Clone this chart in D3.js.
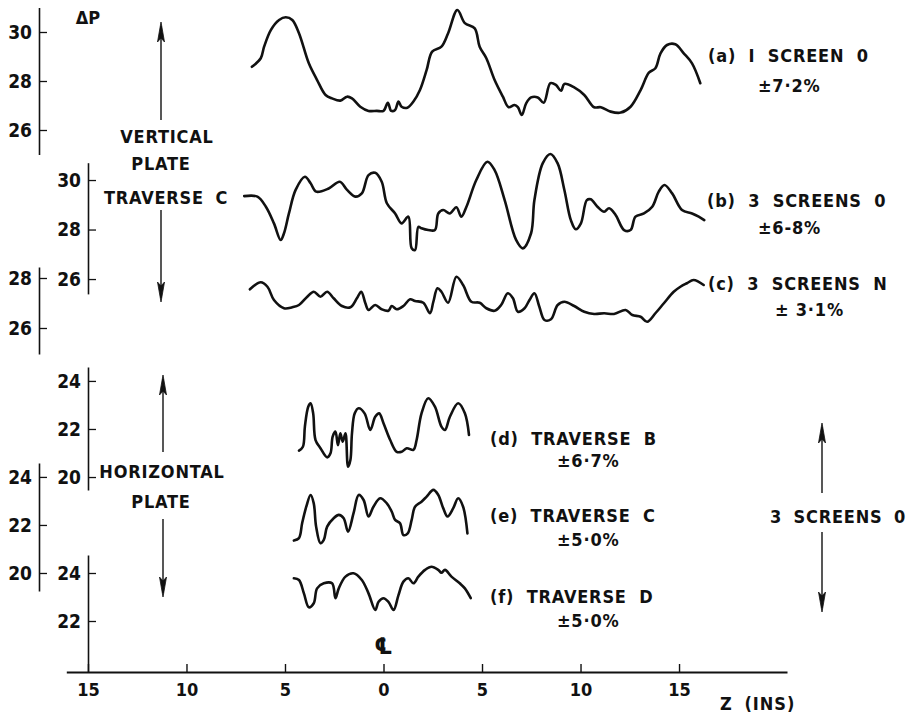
<!DOCTYPE html>
<html>
<head>
<meta charset="utf-8">
<script src="https://cdn.jsdelivr.net/npm/d3@7"></script>
<style>
  body { margin: 0; background: #fff; }
  text { font-family: "DejaVu Sans Condensed", "DejaVu Sans", sans-serif; font-weight: bold; fill: #111; }
</style>
</head>
<body>
<svg id="chart" width="910" height="717"></svg>
<script>
// Pressure-drop profiles ΔP across the duct, [z (in), ΔP]

// (a) vertical plate, 1 screen O
const traceA = [
  [-6.68,28.58],[-6.23,28.93],[-6.06,29.40],[-5.72,30.08],[-5.30,30.49],[-4.96,30.60],
  [-4.63,30.49],[-4.29,29.95],[-3.79,28.72],[-3.37,28.04],[-2.94,27.43],[-2.61,27.29],
  [-2.19,27.20],[-1.85,27.36],[-1.60,27.29],[-1.18,26.95],[-0.76,26.78],[-0.34,26.78],
  [0.00,26.78],[0.22,27.11],[0.39,26.78],[0.59,26.82],[0.76,27.16],[0.92,26.95],
  [1.21,26.91],[1.52,27.16],[1.85,27.63],[2.19,28.45],[2.47,29.20],[2.94,29.40],
  [3.28,29.95],[3.75,30.90],[4.13,30.36],[4.63,30.15],[4.88,29.40],[5.22,28.93],
  [5.64,28.04],[6.06,27.36],[6.35,26.93],[6.65,27.02],[6.82,26.93],[7.02,26.61],
  [7.24,27.09],[7.49,27.33],[7.83,27.33],[8.13,27.11],[8.47,27.91],[8.75,27.84],
  [9.01,27.60],[9.18,27.88],[9.68,27.74],[10.19,27.43],[10.69,26.93],[11.03,26.93],
  [11.53,26.75],[12.04,26.71],[12.54,26.95],[13.05,27.63],[13.47,28.34],[13.80,28.52],
  [14.06,29.13],[14.39,29.47],[14.81,29.50],[15.24,29.13],[15.66,28.72],[16.08,27.91]
];

// (b) vertical plate, 3 screens O
const traceB = [
  [-7.07,29.35],[-6.40,29.33],[-5.97,28.92],[-5.56,28.25],[-5.22,27.58],[-5.05,27.85],
  [-4.80,28.65],[-4.46,29.60],[-3.99,30.13],[-3.70,29.87],[-3.42,29.53],[-2.78,29.66],
  [-2.22,29.93],[-1.85,29.60],[-1.43,29.33],[-1.10,29.46],[-0.76,30.20],[-0.42,30.29],
  [-0.09,29.93],[0.17,29.06],[0.59,28.65],[0.92,28.25],[1.26,28.52],[1.43,27.24],
  [1.60,27.17],[1.77,28.11],[1.93,28.05],[2.27,27.98],[2.61,27.98],[2.78,28.65],
  [3.03,28.79],[3.37,28.65],[3.70,28.90],[3.95,28.52],[4.21,28.92],[4.71,30.00],
  [5.27,30.74],[5.64,30.40],[6.15,29.19],[6.73,27.58],[7.07,27.24],[7.49,27.85],
  [7.66,29.19],[8.08,30.67],[8.47,31.05],[8.84,30.67],[9.18,29.60],[9.51,28.38],
  [9.76,28.01],[10.02,28.25],[10.32,29.19],[10.52,29.22],[10.86,28.92],[11.20,28.72],
  [11.45,28.86],[11.78,28.59],[12.21,27.98],[12.54,27.98],[12.79,28.52],[13.22,28.65],
  [13.64,28.92],[13.97,29.53],[14.26,29.80],[14.65,29.46],[15.15,28.79],[15.66,28.65],
  [16.00,28.52],[16.28,28.38]
];

// (c) vertical plate, 3 screens N
const traceC = [
  [-6.78,27.55],[-6.23,27.83],[-5.89,27.65],[-5.56,27.12],[-5.05,26.79],[-4.63,26.83],
  [-4.29,26.92],[-3.87,27.25],[-3.54,27.45],[-3.20,27.25],[-2.86,27.45],[-2.53,27.19],
  [-2.11,26.88],[-1.68,26.83],[-1.35,27.19],[-1.13,27.45],[-0.92,26.99],[-0.76,26.72],
  [-0.42,26.92],[-0.09,26.75],[0.25,26.69],[0.42,26.88],[0.67,26.75],[1.01,26.88],
  [1.35,27.15],[1.60,27.08],[2.02,27.01],[2.36,26.59],[2.53,27.05],[2.74,27.59],
  [2.94,27.45],[3.28,27.01],[3.70,28.05],[4.04,27.72],[4.46,27.05],[4.88,27.01],
  [5.22,26.79],[5.64,26.69],[5.97,26.92],[6.31,27.39],[6.57,27.19],[6.82,26.65],
  [7.16,26.79],[7.41,27.12],[7.66,27.39],[7.91,26.85],[8.17,26.32],[8.50,26.35],
  [8.84,26.92],[9.18,27.05],[9.68,26.88],[10.19,26.65],[10.69,26.56],[11.20,26.59],
  [11.70,26.56],[12.29,26.72],[12.63,26.52],[13.05,26.45],[13.38,26.25],[13.80,26.59],
  [14.23,26.99],[14.73,27.45],[15.07,27.65],[15.40,27.79],[15.74,27.92],[16.25,27.72]
];

// (d) horizontal plate, traverse B
const traceD = [
  [-4.29,21.10],[-4.09,21.26],[-3.99,22.10],[-3.82,22.93],[-3.70,23.07],[-3.57,22.65],
  [-3.45,21.54],[-3.20,21.20],[-2.86,20.82],[-2.69,20.99],[-2.58,21.68],[-2.44,21.89],
  [-2.31,21.33],[-2.19,21.82],[-2.07,21.47],[-1.93,21.82],[-1.80,20.43],[-1.68,20.71],
  [-1.60,21.82],[-1.46,22.65],[-1.26,22.86],[-0.96,22.65],[-0.67,21.96],[-0.42,22.51],
  [-0.22,22.65],[0.00,22.24],[0.34,21.54],[0.67,21.05],[0.92,21.05],[1.18,21.20],
  [1.52,21.13],[1.68,21.54],[1.93,22.65],[2.27,23.28],[2.61,22.93],[2.94,22.10],
  [3.12,21.96],[3.37,22.51],[3.79,23.07],[4.13,22.65],[4.34,21.75]
];

// (e) horizontal plate, traverse C
const traceE = [
  [-4.55,21.35],[-4.29,21.45],[-4.13,22.07],[-3.92,22.76],[-3.70,23.25],[-3.54,22.90],
  [-3.42,21.93],[-3.20,21.24],[-3.03,21.38],[-2.86,21.93],[-2.53,22.28],[-2.27,22.42],
  [-2.02,22.28],[-1.80,21.72],[-1.52,22.49],[-1.26,23.25],[-1.01,23.04],[-0.76,22.35],
  [-0.51,22.76],[-0.17,23.11],[0.17,22.90],[0.42,22.55],[0.59,22.21],[0.84,22.07],
  [1.01,21.58],[1.23,21.65],[1.43,22.21],[1.60,22.76],[1.93,22.97],[2.19,23.18],
  [2.53,23.46],[2.78,23.25],[3.03,22.70],[3.25,22.35],[3.54,22.70],[3.79,23.11],
  [4.04,22.76],[4.26,21.65]
];

// (f) horizontal plate, traverse D
const traceF = [
  [-4.55,23.78],[-4.29,23.71],[-4.04,23.15],[-3.79,22.57],[-3.54,22.74],[-3.37,23.36],
  [-3.03,23.57],[-2.61,23.57],[-2.44,22.95],[-2.27,23.36],[-1.93,23.85],[-1.52,23.99],
  [-1.10,23.71],[-0.76,23.15],[-0.42,22.46],[-0.25,22.80],[0.00,22.95],[0.25,22.80],
  [0.51,22.46],[0.76,23.08],[1.01,23.64],[1.26,23.78],[1.52,23.57],[1.77,23.85],
  [2.11,24.13],[2.44,24.26],[2.78,24.13],[2.94,24.01],[3.12,24.13],[3.45,23.85],
  [3.87,23.57],[4.13,23.36],[4.43,22.95]
];

// Axis tick values
const xTicks = [-15, -10, -5, 0, 5, 10, 15];
const ticksA = [26, 28, 30];
const ticksB = [26, 28, 30];
const ticksC = [26, 28];
const ticksD = [20, 22, 24];
const ticksE = [20, 22, 24];
const ticksF = [22, 24];

// Curve labels and their spreads
const labelTitles = ["(a) I SCREEN 0", "(b) 3 SCREENS 0", "(c) 3 SCREENS N",
                     "(d) TRAVERSE B", "(e) TRAVERSE C", "(f) TRAVERSE D"];
const labelSpreads = ["±7·2%", "±6-8%", "± 3·1%", "±6·7%", "±5·0%", "±5·0%"];

const svg = d3.select("#chart");

// Shared spanwise scale (distance either side of the centre line)
const x = d3.scaleLinear().domain([-16.1, 20.48]).range([66.3, 787]);

// One ΔP scale per trace; each has its own short vertical axis
const panels = [
  { data: traceA, ticks: ticksA, axisX: 39,  scale: d3.scaleLinear().domain([25, 31]).range([154.5, 7.5]) },
  { data: traceB, ticks: ticksB, axisX: 88,  scale: d3.scaleLinear().domain([25.4, 30.7]).range([293.9, 162.7]) },
  { data: traceC, ticks: ticksC, axisX: 39,  scale: d3.scaleLinear().domain([24.96, 28.44]).range([354, 267]) },
  { data: traceD, ticks: ticksD, axisX: 88,  scale: d3.scaleLinear().domain([19.46, 24.58]).range([490, 367]) },
  { data: traceE, ticks: ticksE, axisX: 39,  scale: d3.scaleLinear().domain([19.25, 24.58]).range([591, 463]) },
  { data: traceF, ticks: ticksF, axisX: 88,  scale: d3.scaleLinear().domain([19.875, 24.75]).range([672, 555]) }
];

// Vertical ΔP axes: ticks point right, labels sit on the left
panels.forEach(p => {
  const g = svg.append("g").attr("transform", `translate(${p.axisX},0)`)
    .call(d3.axisLeft(p.scale).tickValues(p.ticks).tickFormat(d3.format("d"))
      .tickSize(-8).tickSizeOuter(0).tickPadding(7));
  g.select(".domain").attr("stroke", "#111").attr("stroke-width", 1.6);
  g.selectAll(".tick line").attr("stroke", "#111").attr("stroke-width", 1.3);
  g.selectAll(".tick text").attr("font-size", 19).attr("font-family", null).attr("fill", "#111");
});

// Spanwise axis along the bottom
const gx = svg.append("g").attr("transform", "translate(0,672)")
  .call(d3.axisBottom(x).tickValues(xTicks).tickFormat(d => Math.abs(d))
    .tickSize(-8).tickSizeOuter(0).tickPadding(11));
gx.select(".domain").attr("stroke", "#111").attr("stroke-width", 1.8);
gx.selectAll(".tick line").attr("stroke", "#111").attr("stroke-width", 1.4);
gx.selectAll(".tick text").attr("font-size", 18).attr("font-family", null).attr("fill", "#111");

svg.append("text").attr("x", 720).attr("y", 710).attr("font-size", 18)
  .attr("letter-spacing", 1).style("word-spacing", "5px").text("Z (INS)");

// Centre-line mark above z = 0
svg.append("text").attr("x", x(0)).attr("y", 654).attr("text-anchor", "middle")
  .attr("font-size", 23).text("℄");

// ΔP traces
const line = d3.line().x(d => x(d[0])).curve(d3.curveCatmullRom.alpha(0.5));
panels.forEach(p => {
  svg.append("path")
    .datum(p.data)
    .attr("d", line.y(d => p.scale(d[1])))
    .attr("fill", "none")
    .attr("stroke", "#111")
    .attr("stroke-width", 2.6)
    .attr("stroke-linejoin", "round")
    .attr("stroke-linecap", "round");
});

// Curve labels
const labelPos = [
  { x: 708, y: 62,  sx: 758, sy: 92 },
  { x: 707, y: 207, sx: 758, sy: 234 },
  { x: 708, y: 290, sx: 775, sy: 316 },
  { x: 490, y: 445, sx: 557, sy: 467 },
  { x: 490, y: 522, sx: 557, sy: 546 },
  { x: 490, y: 603, sx: 557, sy: 627 }
];
labelTitles.forEach((t, i) => {
  const pos = labelPos[i];
  svg.append("text").attr("x", pos.x).attr("y", pos.y).attr("font-size", 18)
    .attr("letter-spacing", 0.8).style("word-spacing", "6px").text(t);
  svg.append("text").attr("x", pos.sx).attr("y", pos.sy).attr("font-size", 18)
    .attr("letter-spacing", 0.8).text(labelSpreads[i]);
});

// Block captions with double-headed arrows
svg.append("text").attr("x", 88).attr("y", 24).attr("text-anchor", "middle")
  .attr("font-size", 18).text("ΔP");

const captions = [
  { t: "VERTICAL", x: 167, y: 143 },
  { t: "PLATE", x: 161, y: 170 },
  { t: "TRAVERSE C", x: 166, y: 204 },
  { t: "HORIZONTAL", x: 162, y: 478 },
  { t: "PLATE", x: 161, y: 508 },
  { t: "3 SCREENS 0", x: 838, y: 523 }
];
captions.forEach(c => {
  svg.append("text").attr("x", c.x).attr("y", c.y).attr("text-anchor", "middle")
    .attr("font-size", 18).attr("letter-spacing", 0.8).style("word-spacing", "5px").text(c.t);
});

// [x, arrow tip, inner end]
const arrows = [
  [161, 22, 120], [161, 302, 210],
  [163, 375, 452], [163, 597, 519],
  [822, 423, 493], [822, 612, 532]
];
arrows.forEach(([ax, tip, end]) => {
  const dir = end > tip ? 1 : -1;
  svg.append("line").attr("x1", ax).attr("x2", ax).attr("y1", tip + dir * 4).attr("y2", end)
    .attr("stroke", "#111").attr("stroke-width", 1.4);
  svg.append("path")
    .attr("d", `M${ax},${tip} L${ax - 3.5},${tip + dir * 20} L${ax},${tip + dir * 16} L${ax + 3.5},${tip + dir * 20} Z`)
    .attr("fill", "#111").attr("stroke", "#111").attr("stroke-width", 0.8);
});
</script>
</body>
</html>
